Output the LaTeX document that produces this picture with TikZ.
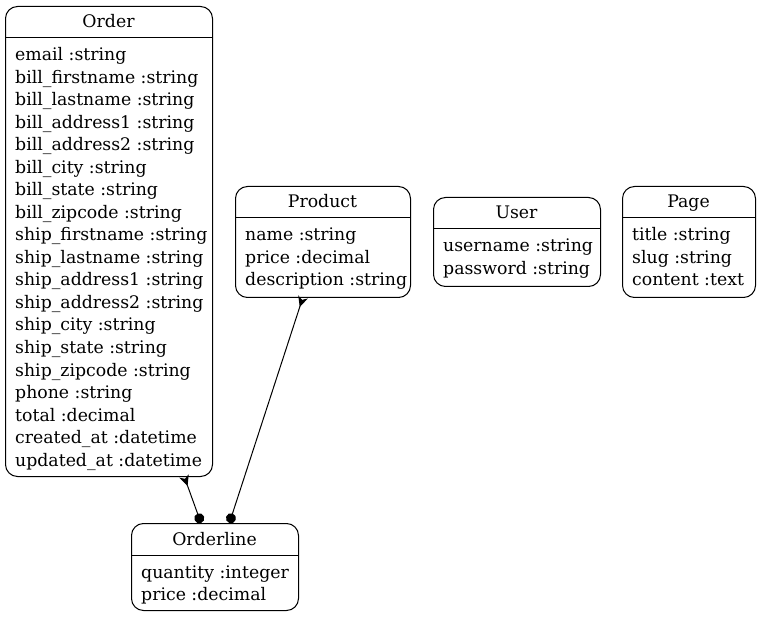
\documentclass[tikz,border=0pt]{standalone}
\usepackage{fontspec}
\setmainfont{DejaVu Serif}
\usetikzlibrary{arrows.meta}
\begin{document}
\begin{tikzpicture}[x=1pt,y=-1pt,
  entity/.style={draw, line width=1pt, rounded corners=12pt, inner sep=0pt, anchor=north west},
  ttl/.style={anchor=base, inner sep=0pt, font=\fontsize{17.3}{22.5}\selectfont},
  attr/.style={anchor=base west, inner sep=0pt, font=\fontsize{17.3}{22.5}\selectfont},
  sep/.style={line width=1pt},
  rel/.style={line width=1pt, {Stealth[reversed,length=10.5pt,width=10pt,inset=3pt]}-{Circle[length=10pt]}}]
\useasboundingbox (0,0) rectangle (760,617);
% Order
\node[entity, minimum width=207pt, minimum height=470pt] (order) at (5,6) {};
\draw[sep] (5,38) -- (212,38);
\node[ttl] (order-t) at (108.5,28) {Order};
\foreach \t [count=\i] in {email :string, bill\_firstname :string, bill\_lastname :string, bill\_address1 :string, bill\_address2 :string, bill\_city :string, bill\_state :string, bill\_zipcode :string, ship\_firstname :string, ship\_lastname :string, ship\_address1 :string, ship\_address2 :string, ship\_city :string, ship\_state :string, ship\_zipcode :string, phone :string, total :decimal, created\_at :datetime, updated\_at :datetime}
  \node[attr] (order-\i) at ({15},{61+22.5*(\i-1)}) {\t};
% Product
\node[entity, minimum width=175pt, minimum height=111pt] (product) at (235,186) {};
\draw[sep] (235,218) -- (410,218);
\node[ttl] (product-t) at (322.5,208) {Product};
\foreach \t [count=\i] in {name :string, price :decimal, description :string}
  \node[attr] (product-\i) at ({245},{241+22.5*(\i-1)}) {\t};
% User
\node[entity, minimum width=167pt, minimum height=89pt] (user) at (433,197) {};
\draw[sep] (433,229) -- (600,229);
\node[ttl] (user-t) at (516.5,219) {User};
\foreach \t [count=\i] in {username :string, password :string}
  \node[attr] (user-\i) at ({443},{252+22.5*(\i-1)}) {\t};
% Page
\node[entity, minimum width=133pt, minimum height=111pt] (page) at (622,186) {};
\draw[sep] (622,218) -- (755,218);
\node[ttl] (page-t) at (688.5,208) {Page};
\foreach \t [count=\i] in {title :string, slug :string, content :text}
  \node[attr] (page-\i) at ({632},{241+22.5*(\i-1)}) {\t};
% Orderline
\node[entity, minimum width=167pt, minimum height=87pt] (orderline) at (131,523) {};
\draw[sep] (131,555) -- (298,555);
\node[ttl] (orderline-t) at (214.5,545) {Orderline};
\foreach \t [count=\i] in {quantity :integer, price :decimal}
  \node[attr] (orderline-\i) at ({141},{578+22.5*(\i-1)}) {\t};
% connectors
\coordinate (o1) at (184,476);
\coordinate (l1) at (201,523);
\coordinate (p1) at (303,297);
\coordinate (l2) at (229.4,523);
\draw[rel] (o1) -- (l1);
\draw[rel] (p1) -- (l2);
\end{tikzpicture}
\end{document}
